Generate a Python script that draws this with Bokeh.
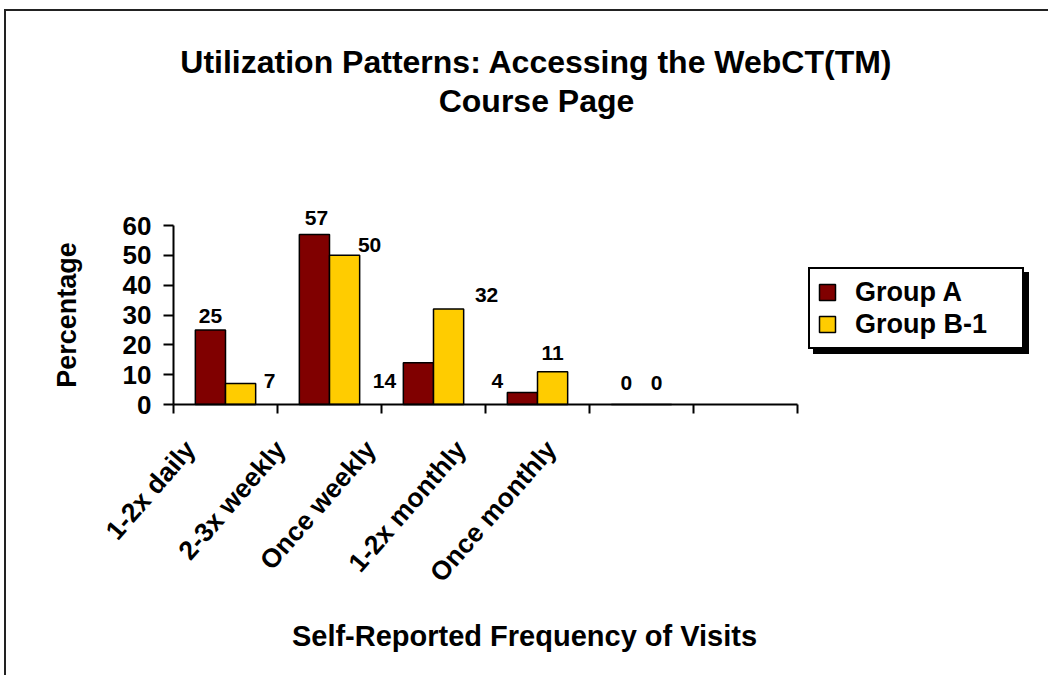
from bokeh.plotting import figure
from bokeh.models import Range1d, FixedTicker, Label, Legend, LegendItem, ColumnDataSource
from bokeh.core.properties import value
from bokeh.embed import file_html
from bokeh.resources import INLINE

# ---------------- data ----------------
title_lines = ["Utilization Patterns: Accessing the WebCT(TM)", "Course Page"]
categories = ["1-2x daily", "2-3x weekly", "Once weekly", "1-2x monthly", "Once monthly"]
group_a = [25, 57, 14, 4, 0]
group_b = [7, 50, 32, 11, 0]
series_names = ["Group A", "Group B-1"]
y_ticks = [0, 10, 20, 30, 40, 50, 60]
x_title = "Self-Reported Frequency of Visits"
y_title = "Percentage"

# ---------------- style / layout ----------------
FONT = "Liberation Sans"
COLOR_A = "#800000"
COLOR_B = "#FFCC00"
N_SLOTS = 6          # the category axis has one empty slot at the end
BAR_W = 0.29
# pixel offsets of the data labels (as placed in the reference)
a_dx = [0, 2, -34, -25, 0]
a_dy = [-14, -16, 18, -12, -22]
b_dx = [29, 25, 38, 0, 0]
b_dy = [-3, -10, -14, -19, -22]

# canvas geometry (page pixels); the frame covers the whole canvas and the
# axes are pinned inside it, so titles and legend are never clipped
W, H = 1044, 666
CANVAS_LEFT, CANVAS_TOP = 6, 11
AX_LEFT, AX_RIGHT = 173, 797      # where the category axis starts / ends
AX_BOTTOM, AX_TOP = 404, 225      # where y = 0 / y = max lie
y_max = y_ticks[-1]
ppx = (AX_RIGHT - AX_LEFT) / N_SLOTS
ppy = (AX_BOTTOM - AX_TOP) / y_max
x_start = (CANVAS_LEFT - AX_LEFT) / ppx
x_end = x_start + W / ppx
y_end = (AX_BOTTOM - CANVAS_TOP) / ppy
y_start = y_end - H / ppy


def sx(page_x):
    return page_x - CANVAS_LEFT


def sy(page_y):
    return CANVAS_TOP + H - page_y


n = len(categories)
src_a = ColumnDataSource(dict(
    x=[i + 0.5 - BAR_W / 2 for i in range(n)], top=group_a,
    label=[str(v) for v in group_a], dx=a_dx, dy=a_dy))
src_b = ColumnDataSource(dict(
    x=[i + 0.5 + BAR_W / 2 for i in range(n)], top=group_b,
    label=[str(v) for v in group_b], dx=b_dx, dy=b_dy))

p = figure(width=W, height=H,
           x_range=Range1d(x_start, x_end), y_range=Range1d(y_start, y_end),
           output_backend="svg", toolbar_location=None,
           min_border=0, min_border_left=0, min_border_right=0,
           min_border_top=0, min_border_bottom=0)
p.styles = {"border-top": "2px solid #222", "border-left": "2px solid #222",
            "margin-left": "4px", "margin-top": "9px"}
p.outline_line_color = None
p.xgrid.visible = False
p.ygrid.visible = False
p.background_fill_color = "white"
p.border_fill_color = "white"

ra = p.vbar(x="x", top="top", bottom=0, width=BAR_W, source=src_a,
            fill_color=COLOR_A, line_color="black", line_width=1.5)
rb = p.vbar(x="x", top="top", bottom=0, width=BAR_W, source=src_b,
            fill_color=COLOR_B, line_color="black", line_width=1.5)

for src in (src_a, src_b):
    p.text(x="x", y="top", text="label", x_offset="dx", y_offset="dy", source=src,
           text_align="center", text_baseline="middle",
           text_font=value(FONT), text_font_style="bold", text_font_size="21px",
           text_color="black")

# ---------------- axes (pinned at x = 0 / y = 0) ----------------
yax = p.yaxis[0]
yax.fixed_location = 0
yax.bounds = (0, y_max)
yax.ticker = FixedTicker(ticks=y_ticks)
yax.axis_line_width = 2
yax.major_tick_line_width = 2
yax.major_tick_out = 10
yax.major_tick_in = 0
yax.minor_tick_line_color = None
yax.major_label_text_font = FONT
yax.major_label_text_font_style = "bold"
yax.major_label_text_font_size = "26px"
yax.major_label_text_color = "black"
yax.major_label_standoff = 12
yax.axis_label = y_title
yax.axis_label_text_font = FONT
yax.axis_label_text_font_style = "bold"
yax.axis_label_text_font_size = "27px"
yax.axis_label_text_color = "black"
yax.axis_label_standoff = 38

label_pos = [0.16 + 0.868 * i for i in range(n)]
xax = p.xaxis[0]
xax.fixed_location = 0
xax.bounds = (0, N_SLOTS)
xax.ticker = FixedTicker(ticks=label_pos, minor_ticks=list(range(N_SLOTS + 1)))
xax.major_label_overrides = {pos: cat for pos, cat in zip(label_pos, categories)}
xax.major_label_orientation = 0.855
xax.axis_line_width = 2
xax.major_tick_out = 0
xax.major_tick_in = 0
xax.major_tick_line_color = None
xax.minor_tick_out = 9
xax.minor_tick_in = 0
xax.minor_tick_line_width = 2
xax.major_label_text_font = FONT
xax.major_label_text_font_style = "bold"
xax.major_label_text_font_size = "26.5px"
xax.major_label_text_color = "black"
xax.major_label_standoff = 31

# ---------------- titles ----------------
for txt, py in zip(title_lines, [61, 100]):
    p.add_layout(Label(x=sx(536), y=sy(py), x_units="screen", y_units="screen", text=txt,
                       text_align="center", text_baseline="middle",
                       text_font=FONT, text_font_style="bold", text_font_size="32px",
                       text_color="black"))
p.add_layout(Label(x=sx(524), y=sy(635), x_units="screen", y_units="screen", text=x_title,
                   text_align="center", text_baseline="middle",
                   text_font=FONT, text_font_style="bold", text_font_size="29px",
                   text_color="black"))


# ---------------- legend (with shadow) ----------------
def make_legend(loc, shadow):
    names = [" ", " "] if shadow else series_names
    return Legend(items=[LegendItem(label=names[0], renderers=[ra]),
                         LegendItem(label=names[1], renderers=[rb])],
                  location=loc, orientation="vertical", margin=0, padding=7,
                  spacing=0, glyph_width=20, glyph_height=20, label_standoff=18,
                  label_text_font=FONT, label_text_font_style="bold",
                  label_text_font_size="27px", label_width=160, label_height=32,
                  label_text_color="black", label_text_alpha=0.0 if shadow else 1.0,
                  border_line_color="black", border_line_width=2, border_line_alpha=1.0,
                  background_fill_color="black" if shadow else "white",
                  background_fill_alpha=1.0)


p.add_layout(make_legend((sx(813), sy(354)), True), "center")
p.add_layout(make_legend((sx(808), sy(349)), False), "center")

open("out.html", "w").write(file_html(p, INLINE))
